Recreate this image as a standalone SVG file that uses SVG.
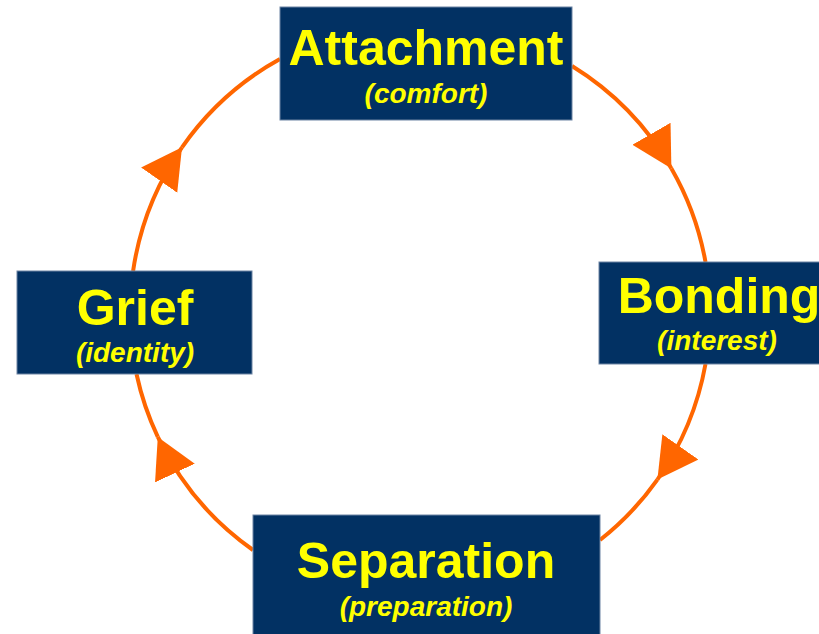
<svg xmlns="http://www.w3.org/2000/svg" width="819" height="634" viewBox="0 0 819 634">
<style>
.box{fill:#023163;stroke:#6d84a3;stroke-width:1}
.t{font-family:"Liberation Sans",Arial,sans-serif;font-weight:bold;fill:#FFFF00;text-anchor:middle}
.title{font-size:50px}
.sub{font-size:28px;font-style:italic}
.arc{fill:none;stroke:#FF6600;stroke-width:4}
</style>
<defs>
<marker id="ah" markerUnits="userSpaceOnUse" markerWidth="44" markerHeight="46" refX="40" refY="22" orient="auto" viewBox="0 0 44 46">
<path d="M0,0 L40,22 L0,44 Z" fill="#FF6600"/>
</marker>
</defs>
<rect width="819" height="634" fill="#FFFFFF"/>
<g id="connectors">
<path class="arc" d="M572,66 A290,290 0 0 1 671.4,168.4" marker-end="url(#ah)"/>
<path class="arc" d="M671.4,168.4 A290,290 0 0 1 705.5,262"/>
<path class="arc" d="M705.5,364 A290,290 0 0 1 657.4,479.6" marker-end="url(#ah)"/>
<path class="arc" d="M657.4,479.6 A290,290 0 0 1 600,540"/>
<path class="arc" d="M253,550 A290,290 0 0 1 157.8,436.9" marker-end="url(#ah)"/>
<path class="arc" d="M157.8,436.9 A290,290 0 0 1 136.5,374"/>
<path class="arc" d="M133.1,271 A290,290 0 0 1 182,147.3" marker-end="url(#ah)"/>
<path class="arc" d="M182,147.3 A290,290 0 0 1 280,59"/>
</g>
<g id="attachment">
<rect class="box" x="280" y="7" width="292" height="113"/>
<text class="t title" x="426" y="65">Attachment</text>
<text class="t sub" x="426" y="103">(comfort)</text>
</g>
<g id="bonding">
<rect class="box" x="599" y="262" width="241" height="102"/>
<text class="t title" x="719" y="313">Bonding</text>
<text class="t sub" x="717" y="350">(interest)</text>
</g>
<g id="separation">
<rect class="box" x="253" y="515" width="347" height="125"/>
<text class="t title" x="426" y="578">Separation</text>
<text class="t sub" x="426" y="616">(preparation)</text>
</g>
<g id="grief">
<rect class="box" x="17" y="271" width="235" height="103"/>
<text class="t title" x="135" y="325">Grief</text>
<text class="t sub" x="135" y="362">(identity)</text>
</g>
</svg>
